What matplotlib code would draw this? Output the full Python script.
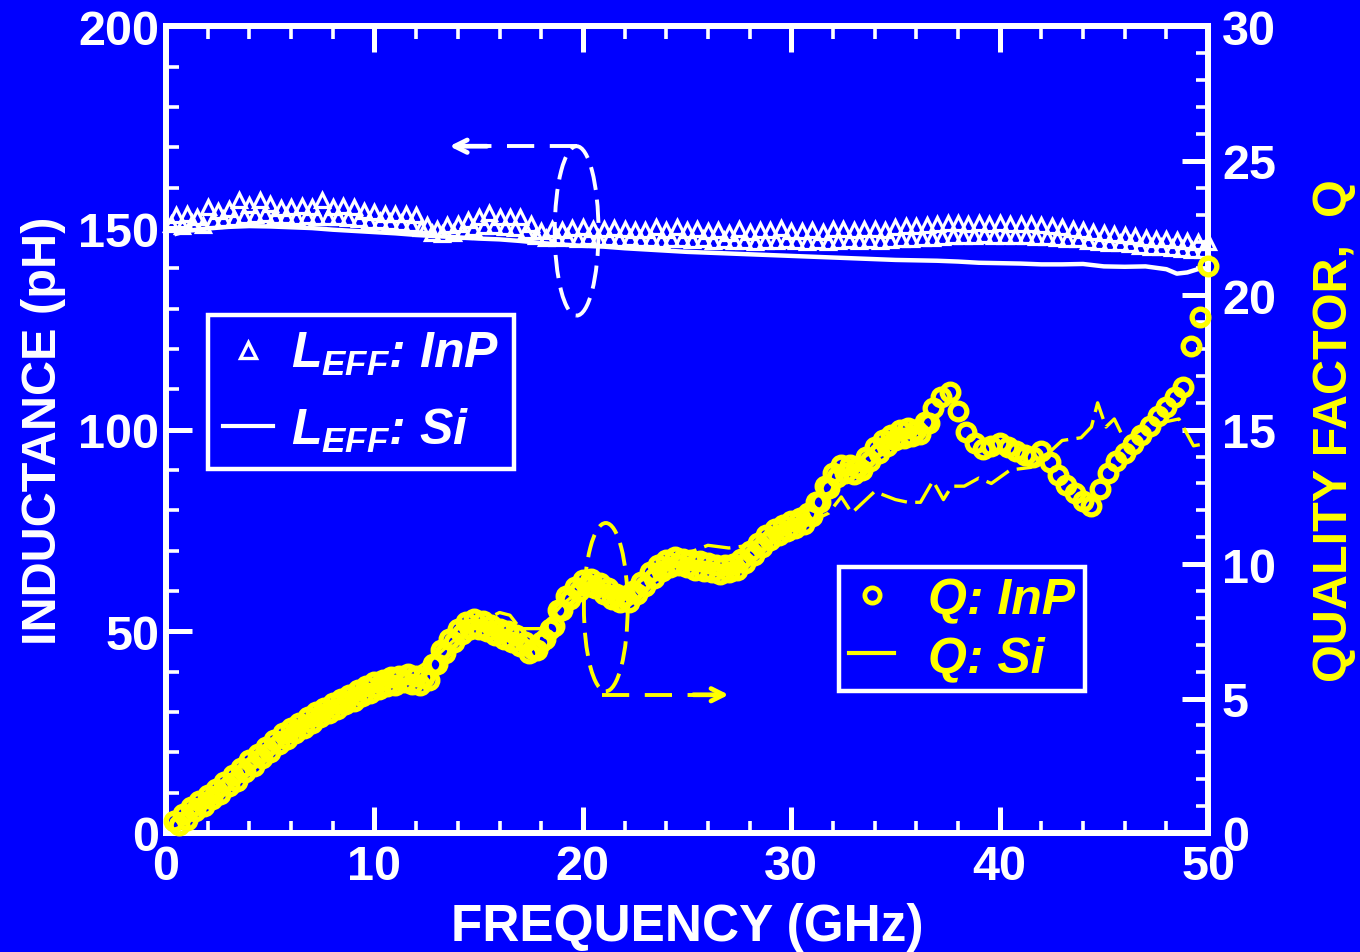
import numpy as np
import matplotlib
matplotlib.use("Agg")
import matplotlib.pyplot as plt
from matplotlib.patches import Ellipse
from matplotlib.lines import Line2D
from matplotlib.ticker import MultipleLocator
from matplotlib.font_manager import FontProperties

plt.rcParams["font.family"] = ["Liberation Sans", "DejaVu Sans"]
plt.rcParams["font.weight"] = "bold"
plt.rcParams["axes.labelweight"] = "bold"
plt.rcParams["mathtext.fontset"] = "custom"
plt.rcParams["mathtext.it"] = "Liberation Sans:italic:bold"
plt.rcParams["mathtext.rm"] = "Liberation Sans:italic:bold"
plt.rcParams["mathtext.bf"] = "Liberation Sans:italic:bold"

BLUE = "#0000ff"
WHITE = "#ffffff"
YELLOW = "#ffff00"

# ---------------- data ----------------
# Effective inductance, InP substrate (pH): upper samples every 0.5 GHz from 0.5 GHz,
# lower samples interleaved at 0.25 GHz offsets
l_inp_upper = [
    153.3, 153.5, 152.8, 155.3, 154.2, 154.8, 157.0, 155.8, 157.0, 156.0,
    155.0, 155.3, 155.5, 155.3, 157.0, 155.3, 155.4, 155.2, 154.2, 153.9,
    153.6, 153.6, 153.5, 153.3, 150.8, 149.8, 150.8, 151.0, 152.0, 152.8,
    153.8, 152.8, 152.8, 152.8, 151.0, 149.2, 149.7, 149.6, 150.1, 150.2,
    149.8, 149.7, 150.0, 149.7, 149.5, 149.5, 150.2, 149.4, 150.3, 149.6,
    149.8, 149.2, 149.5, 148.8, 149.8, 149.0, 149.6, 149.5, 150.0, 149.3,
    149.2, 149.6, 149.0, 149.7, 149.8, 149.6, 149.8, 149.7, 149.6, 150.2,
    150.4, 150.6, 150.8, 151.0, 151.2, 151.2, 151.1, 151.2, 151.0, 151.2,
    151.1, 151.0, 151.1, 150.8, 150.4, 150.3, 149.8, 149.5, 149.0, 148.8,
    148.6, 148.4, 148.0, 147.6, 147.3, 147.4, 147.0, 146.8, 146.6, 146.6,
]
l_inp_lower = [
    151.0, 150.5, 151.2, 150.8, 152.0, 152.3, 152.5, 153.0, 153.2, 153.4,
    153.0, 153.0, 152.8, 153.0, 152.8, 152.7, 152.8, 152.4, 152.2, 151.8,
    151.8, 151.4, 151.2, 151.0, 150.0, 148.8, 148.5, 148.8, 149.2, 150.0,
    150.5, 150.4, 150.3, 150.0, 149.2, 148.0, 147.5, 147.6, 147.8, 147.4,
    147.8, 147.5, 147.6, 147.3, 147.5, 147.2, 147.3, 147.0, 147.4, 147.2,
    147.0, 147.3, 146.8, 147.0, 146.8, 146.9, 146.6, 146.9, 146.8, 147.0,
    146.7, 146.5, 146.8, 146.5, 146.9, 147.0, 146.8, 147.0, 146.9, 147.0,
    147.2, 147.3, 147.5, 147.6, 147.8, 148.0, 148.1, 148.0, 148.2, 148.0,
    148.1, 148.0, 148.1, 147.9, 147.8, 147.5, 147.4, 147.2, 146.9, 146.6,
    146.4, 146.2, 146.0, 145.6, 145.3, 145.2, 145.0, 144.8, 144.6, 144.5,
]

# Effective inductance, Si substrate (pH)
f_l_si = [0.5, 1, 2, 3, 4, 5, 6, 7, 8, 9, 10, 11, 12, 13, 14, 15, 16, 17, 18, 19,
          20, 21, 22, 23, 24, 25, 26, 27, 28, 29, 30, 31, 32, 33, 34, 35, 36, 37,
          38, 39, 40, 41, 42, 43, 44, 45, 46, 47, 48, 48.5, 49, 49.5, 50]
l_si = [148.6, 149.3, 149.9, 150.3, 150.5, 150.4, 150.2, 150.0, 149.6, 149.3,
        149.0, 148.7, 148.3, 148.0, 147.7, 147.4, 147.2, 146.8, 146.3, 145.9,
        145.6, 145.4, 145.0, 144.7, 144.4, 144.1, 143.9, 143.7, 143.5, 143.3,
        143.1, 142.9, 142.7, 142.5, 142.3, 142.1, 142.0, 141.9, 141.7, 141.4,
        141.3, 141.2, 141.0, 141.0, 141.1, 140.5, 140.4, 140.5, 139.8, 138.7,
        139.0, 139.8, 140.0]

# Quality factor, InP substrate: samples every 0.4 GHz from 0.4 GHz
q_inp = [
    0.45, 0.7, 0.95, 1.2, 1.4, 1.65, 1.9, 2.15, 2.4, 2.7,
    2.95, 3.2, 3.45, 3.7, 3.9, 4.1, 4.3, 4.5, 4.65, 4.85,
    5.0, 5.15, 5.3, 5.45, 5.6, 5.7, 5.8, 5.85, 5.9, 5.85,
    5.8, 6.3, 6.8, 7.2, 7.6, 7.85, 7.95, 7.9, 7.75, 7.6,
    7.5, 7.35, 7.1, 6.85, 7.1, 7.6, 8.3, 8.8, 9.15, 9.4,
    9.45, 9.3, 9.1, 8.9, 8.8, 9.0, 9.35, 9.7, 9.95, 10.15,
    10.25, 10.2, 10.15, 10.1, 10.05, 9.95, 9.95, 10.0, 10.2, 10.5,
    10.8, 11.1, 11.3, 11.45, 11.6, 11.7, 11.9, 12.3, 12.9, 13.4,
    13.7, 13.7, 13.6, 14.0, 14.35, 14.6, 14.8, 15.0, 15.05, 15.0,
    15.3, 15.8, 16.2, 16.4, 15.7, 14.9, 14.5, 14.3, 14.4, 14.5,
    14.35, 14.2, 14.05, 14.0, 14.2, 13.8, 13.3, 12.95, 12.65, 12.35,
    12.15, 12.8, 13.4, 13.85, 14.15, 14.45, 14.8, 15.15, 15.5, 15.85,
    16.2, 16.6, 18.1, 19.2, 21.1,
]
# Interleaved InP samples, every 0.4 GHz from 0.6 GHz up to 36.6 GHz
q_inp_mid = [
    0.3, 0.5, 0.8, 1.0, 1.25, 1.45, 1.75, 1.95, 2.25, 2.5,
    2.8, 3.0, 3.3, 3.5, 3.7, 3.9, 4.1, 4.3, 4.45, 4.6,
    4.8, 4.9, 5.1, 5.2, 5.35, 5.45, 5.5, 5.6, 5.55, 5.5,
    5.7, 6.3, 6.7, 7.1, 7.4, 7.6, 7.6, 7.5, 7.35, 7.2,
    7.1, 6.95, 6.7, 6.8, 7.2, 7.7, 8.3, 8.7, 9.0, 9.2,
    9.1, 8.9, 8.7, 8.6, 8.6, 8.9, 9.2, 9.5, 9.75, 9.9,
    9.95, 9.9, 9.8, 9.75, 9.7, 9.65, 9.7, 9.8, 10.05, 10.35,
    10.65, 10.9, 11.1, 11.25, 11.35, 11.5, 11.8, 12.3, 12.85, 13.25,
    13.4, 13.35, 13.5, 13.85, 14.15, 14.4, 14.6, 14.7, 14.75, 14.85,
    15.25,
]

# Quality factor, Si substrate
f_q_si = [0.5, 1, 2, 3, 4, 5, 6, 7, 8, 9, 10, 11, 12, 13, 14, 15, 16, 16.5, 17,
          18, 19, 20, 21, 22, 23, 24, 25, 26, 27, 28, 29, 30, 31, 31.8, 32.4, 32.9,
          34.0, 35.0, 35.6, 36.2, 36.8, 37.3, 37.7, 38.3, 39.0, 39.6, 40.5, 41.5,
          42.3, 43.0, 43.9, 44.4, 44.7, 45.1, 45.5, 46.0, 47.0, 48.0, 48.6, 49.3,
          50.0]
q_si = [0.4, 0.8, 1.5, 2.1, 2.8, 3.4, 3.9, 4.4, 4.9, 5.3, 5.7, 6.0, 6.1, 6.6,
        7.3, 7.8, 8.2, 8.1, 7.6, 7.6, 8.5, 9.1, 9.0, 9.0, 9.6, 10.0, 10.4, 10.7,
        10.6, 10.7, 11.0, 11.3, 11.6, 11.9, 12.5, 11.9, 12.7, 12.4, 12.3, 12.3,
        13.1, 12.4, 12.9, 12.9, 13.2, 13.0, 13.5, 13.6, 14.1, 14.6, 14.7, 15.1,
        16.0, 15.1, 15.4, 14.6, 15.1, 15.3, 15.4, 14.4, 14.5]

x_ticks = [0, 10, 20, 30, 40, 50]
l_ticks = [0, 50, 100, 150, 200]
q_ticks = [0, 5, 10, 15, 20, 25, 30]

f_upper = 0.5 * (1 + np.arange(len(l_inp_upper)))
f_lower = f_upper - 0.25
f_q_inp = 0.4 * (1 + np.arange(len(q_inp)))
f_q_inp_mid = 0.6 + 0.4 * np.arange(len(q_inp_mid))

# ---------------- figure ----------------
fig = plt.figure(figsize=(13.6, 9.53), dpi=100, facecolor=BLUE)
ax = fig.add_axes([0.1221, 0.1249, 0.7662, 0.8463])
ax.set_facecolor(BLUE)
axq = ax.twinx()

for a in (ax, axq):
    for sp in a.spines.values():
        sp.set_color(WHITE)
        sp.set_linewidth(4.2)

ax.set_xlim(0, 50)
ax.set_ylim(0, 200)
axq.set_ylim(0, 30)

ax.set_xticks(x_ticks)
ax.set_yticks(l_ticks)
axq.set_yticks(q_ticks)
ax.xaxis.set_minor_locator(MultipleLocator(2))
ax.yaxis.set_minor_locator(MultipleLocator(10))
axq.yaxis.set_minor_locator(MultipleLocator(1))

ax.tick_params(axis="x", which="both", direction="in", top=True, bottom=True,
               colors=WHITE, labelsize=35, pad=8)
ax.tick_params(axis="y", which="both", direction="in", left=True, right=False,
               colors=WHITE, labelsize=35, pad=5)
axq.tick_params(axis="y", which="both", direction="in", right=True, left=False,
                colors=WHITE, labelsize=35, pad=10)
for a in (ax, axq):
    a.tick_params(which="major", length=19, width=3.6)
    a.tick_params(which="minor", length=9, width=2.6)

ax.set_xlabel("FREQUENCY (GHz)", fontsize=37, fontweight="bold", color=WHITE,
              labelpad=9)
ax.set_ylabel("INDUCTANCE (pH)", fontsize=35, fontweight="bold", color=WHITE,
              labelpad=9)
axq.set_ylabel("QUALITY FACTOR,  Q", fontsize=35, fontweight="bold", color=YELLOW,
               labelpad=26)

# Inductance curves
ax.plot(f_l_si, l_si, color=WHITE, lw=3.2, zorder=3, clip_on=False)
tri = dict(ls="none", marker="^", ms=9.5, mfc="none", mec=WHITE, mew=2.3,
           zorder=4, clip_on=False)
ax.plot(f_lower, l_inp_lower, **tri)
ax.plot(f_upper, l_inp_upper, **tri)

# Quality-factor curves
axq.plot(f_q_si, q_si, color=YELLOW, lw=2.4, dashes=(8, 2.5), zorder=3)
circ = dict(ls="none", marker="o", ms=12, mfc="none", mec=YELLOW, mew=3.8,
            zorder=4, clip_on=False)
axq.plot(f_q_inp_mid, q_inp_mid, **circ)
axq.plot(f_q_inp, q_inp, **circ)

# Axis-assignment callouts
dash_kw = dict(lw=2.8, dashes=(7, 4), solid_capstyle="butt", dash_capstyle="butt")
ax.add_patch(Ellipse((19.7, 149.3), 2.1, 42, fill=False, ec=WHITE, lw=2.8,
                     ls=(0, (6, 2.5)), zorder=5))
ax.plot([19.7, 15.0], [170.3, 170.3], color=WHITE, zorder=5, **dash_kw)
ax.annotate("", xy=(13.6, 170.3), xytext=(15.4, 170.3),
            arrowprops=dict(arrowstyle="->,head_length=0.9,head_width=0.45",
                            color=WHITE, lw=3.4, shrinkA=0, shrinkB=0), zorder=5)

axq.add_patch(Ellipse((21.1, 8.4), 2.1, 6.26, fill=False, ec=YELLOW, lw=2.8,
                      ls=(0, (6, 2.5)), zorder=5))
axq.plot([20.9, 26.0], [5.14, 5.14], color=YELLOW, zorder=5, **dash_kw)
axq.annotate("", xy=(27.0, 5.14), xytext=(25.3, 5.14),
             arrowprops=dict(arrowstyle="->,head_length=0.9,head_width=0.45",
                             color=YELLOW, lw=3.4, shrinkA=0, shrinkB=0), zorder=5)

# Legends
leg_font = FontProperties(family="Liberation Sans", weight="bold", style="italic", size=36)
h_l = [Line2D([], [], ls="none", marker="^", ms=11, mfc="none", mec=WHITE, mew=2.4),
       Line2D([], [], color=WHITE, lw=3.0)]
leg1 = ax.legend(h_l, [r"$L_{EFF}$: InP", r"$L_{EFF}$: Si"], loc="upper left",
                 bbox_to_anchor=(0.040, 0.642), prop=leg_font, labelcolor=WHITE,
                 frameon=True, fancybox=False, facecolor=BLUE, edgecolor=WHITE,
                 framealpha=1, handlelength=1.0, handletextpad=0.36,
                 borderpad=0.3, labelspacing=0.57, borderaxespad=0)
leg1.get_frame().set_linewidth(3.2)
leg1.set_zorder(6)

h_q = [Line2D([], [], ls="none", marker="o", ms=11, mfc="none", mec=YELLOW, mew=3.4),
       Line2D([], [], color=YELLOW, lw=3.0)]
leg2 = axq.legend(h_q, ["Q: InP", "Q: Si"], loc="upper left",
                  bbox_to_anchor=(0.646, 0.3298), prop=leg_font, labelcolor=YELLOW,
                  frameon=True, fancybox=False, facecolor=BLUE, edgecolor=WHITE,
                  framealpha=1, handlelength=0.9, handletextpad=0.68,
                  borderpad=0.2, labelspacing=0.24, borderaxespad=0)
leg2.get_frame().set_linewidth(3.2)
leg2.set_zorder(6)

fig.savefig("out.png", dpi=100, facecolor=BLUE)
